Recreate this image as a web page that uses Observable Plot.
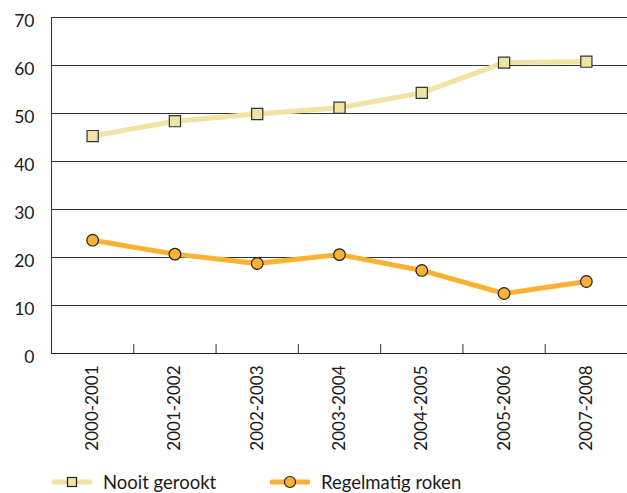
<!DOCTYPE html>
<html>
<head>
<meta charset="utf-8">
<script src="https://cdn.jsdelivr.net/npm/d3@7"></script>
<script src="https://cdn.jsdelivr.net/npm/@observablehq/plot@0.6"></script>
<style>
  html, body { margin: 0; padding: 0; background: #fff; }
  body { width: 627px; height: 493px; overflow: hidden; font-family: Lato, sans-serif; color: #1a1a1a; }
  #legend { position: relative; height: 28px; font-size: 18.5px; }
  .item { position: absolute; top: 6px; display: flex; align-items: center; white-space: nowrap; }
  .item svg { display: block; flex-shrink: 0; }
</style>
</head>
<body>
<div id="chart"></div>
<div id="legend"></div>
<script>
const categories = ["2000-2001", "2001-2002", "2002-2003", "2003-2004", "2004-2005", "2005-2006", "2007-2008"];
const nooitGerookt = [45.3, 48.4, 49.9, 51.2, 54.3, 60.6, 60.8];
const regelmatigRoken = [23.6, 20.7, 18.75, 20.6, 17.3, 12.5, 15.0];
const yTicks = [0, 10, 20, 30, 40, 50, 60, 70];
const seriesNames = ["Nooit gerookt", "Regelmatig roken"];
const lineColors = ["#efe4a3", "#f9b233"];
const markerFills = ["#efe4a3", "#f9b233"];

const idx = categories.map((_, i) => i);
const data = [];
idx.forEach(i => {
  data.push({i, cat: categories[i], series: seriesNames[0], value: nooitGerookt[i]});
  data.push({i, cat: categories[i], series: seriesNames[1], value: regelmatigRoken[i]});
});
const separators = d3.range(categories.length + 1).map(k => k - 0.5);

const chart = Plot.plot({
  width: 627,
  height: 465,
  marginLeft: 51,
  marginRight: 0,
  marginTop: 17,
  marginBottom: 112,
  style: {fontFamily: "Lato, sans-serif", fontSize: "17px", color: "#1a1a1a", background: "#fff"},
  x: {type: "linear", domain: [-0.5, categories.length - 0.5]},
  y: {domain: [0, 70]},
  color: {domain: seriesNames, range: lineColors},
  marks: [
    Plot.gridY(yTicks, {stroke: "#333", strokeOpacity: 1, strokeWidth: 1}),
    Plot.axisY(yTicks, {tickSize: 0, tickPadding: 17, fontSize: 17.5, dy: 4, label: null}),
    Plot.axisX(idx, {tickSize: 0, tickPadding: 12, tickRotate: -90, tickFormat: i => categories[i], fontSize: 17, label: null}),
    Plot.axisX(separators, {tickSize: -9, tickFormat: () => "", label: null, stroke: "#333"}),
    Plot.ruleX([separators[0]], {y1: 0, y2: 70, stroke: "#333"}),
    Plot.ruleY([0], {stroke: "#222"}),
    Plot.line(data, {x: "i", y: "value", z: "series", stroke: "series", strokeWidth: 5, strokeLinejoin: "round"}),
    Plot.dot(data.filter(d => d.series === seriesNames[0]), {x: "i", y: "value", symbol: "square", r: 6.3, fill: markerFills[0], stroke: "#333", strokeWidth: 1.2}),
    Plot.dot(data.filter(d => d.series === seriesNames[1]), {x: "i", y: "value", symbol: "circle", r: 5.8, fill: markerFills[1], stroke: "#222", strokeWidth: 1.2})
  ]
});
document.getElementById("chart").appendChild(chart);

const legend = document.getElementById("legend");
const legendSpecs = [
  {name: seriesNames[0], color: lineColors[0], fill: markerFills[0], shape: "square", left: 52},
  {name: seriesNames[1], color: lineColors[1], fill: markerFills[1], shape: "circle", left: 270}
];
legendSpecs.forEach(s => {
  const item = document.createElement("div");
  item.className = "item";
  item.style.left = s.left + "px";
  const ns = "http://www.w3.org/2000/svg";
  const svg = document.createElementNS(ns, "svg");
  svg.setAttribute("width", 40); svg.setAttribute("height", 16);
  const line = document.createElementNS(ns, "line");
  line.setAttribute("x1", 2); line.setAttribute("x2", 38); line.setAttribute("y1", 8); line.setAttribute("y2", 8);
  line.setAttribute("stroke", s.color); line.setAttribute("stroke-width", 5); line.setAttribute("stroke-linecap", "round");
  svg.appendChild(line);
  let m;
  if (s.shape === "square") {
    m = document.createElementNS(ns, "rect");
    m.setAttribute("x", 15.5); m.setAttribute("y", 3.5); m.setAttribute("width", 9); m.setAttribute("height", 9);
  } else {
    m = document.createElementNS(ns, "circle");
    m.setAttribute("cx", 20); m.setAttribute("cy", 8); m.setAttribute("r", 5.5);
  }
  m.setAttribute("fill", s.fill); m.setAttribute("stroke", "#222"); m.setAttribute("stroke-width", 1.2);
  svg.appendChild(m);
  item.appendChild(svg);
  const label = document.createElement("span");
  label.textContent = s.name;
  label.style.marginLeft = "11px";
  item.appendChild(label);
  legend.appendChild(item);
});
</script>
</body>
</html>
